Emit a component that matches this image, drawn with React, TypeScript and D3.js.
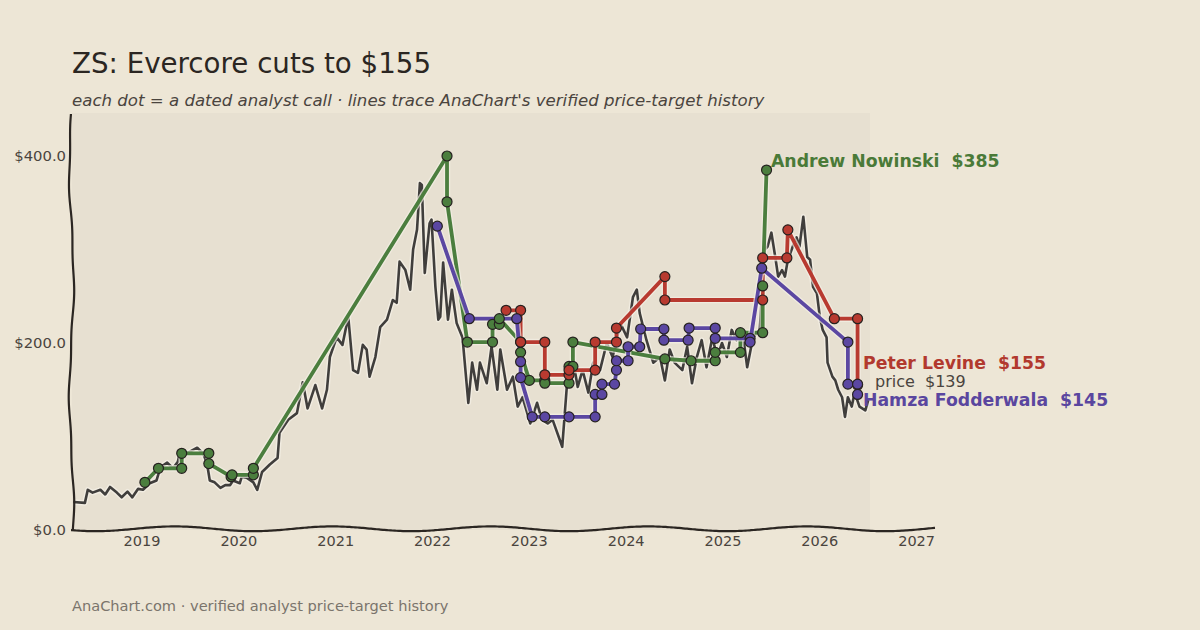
import React from 'react';
import * as d3 from 'd3';

// ---- data ----
const yearTicks = [2019, 2020, 2021, 2022, 2023, 2024, 2025, 2026, 2027];
const priceTicks = [0, 200, 400];

// ZS close, decimal year -> $
const priceHistory: [number, number][] = [
  [2018.29, 30], [2018.41, 29], [2018.44, 43], [2018.49, 40], [2018.57, 43], [2018.62, 38],
  [2018.67, 46], [2018.74, 40], [2018.79, 35], [2018.85, 41], [2018.90, 35], [2018.96, 44],
  [2019.01, 43], [2019.08, 50], [2019.15, 53], [2019.19, 67], [2019.26, 72], [2019.32, 66],
  [2019.37, 73], [2019.39, 82], [2019.46, 82], [2019.57, 88], [2019.63, 82], [2019.67, 72],
  [2019.70, 53], [2019.75, 51], [2019.81, 45], [2019.86, 48], [2019.91, 48], [2019.94, 53],
  [2020.01, 50], [2020.03, 57], [2020.08, 56], [2020.15, 51], [2020.19, 43], [2020.24, 62],
  [2020.32, 70], [2020.40, 77], [2020.42, 104], [2020.51, 118], [2020.60, 125], [2020.66, 158],
  [2020.71, 130], [2020.79, 155], [2020.86, 130], [2020.91, 150], [2020.94, 185], [2021.01, 206],
  [2021.07, 198], [2021.13, 228], [2021.18, 171], [2021.23, 168], [2021.28, 198], [2021.32, 193],
  [2021.35, 164], [2021.41, 185], [2021.46, 217], [2021.53, 225], [2021.59, 246], [2021.63, 243],
  [2021.66, 287], [2021.72, 278], [2021.77, 257], [2021.80, 300], [2021.84, 321], [2021.87, 371],
  [2021.89, 369], [2021.92, 275], [2021.97, 328], [2021.99, 332], [2022.03, 260], [2022.06, 225],
  [2022.08, 228], [2022.11, 286], [2022.16, 225], [2022.20, 257], [2022.25, 221], [2022.31, 206],
  [2022.37, 136], [2022.41, 179], [2022.46, 150], [2022.49, 179], [2022.56, 157], [2022.61, 196],
  [2022.67, 150], [2022.70, 193], [2022.77, 150], [2022.83, 164], [2022.88, 132], [2022.93, 142],
  [2023.01, 114], [2023.08, 136], [2023.13, 118], [2023.19, 114], [2023.24, 118], [2023.34, 89],
  [2023.39, 157], [2023.45, 182], [2023.50, 153], [2023.55, 171], [2023.61, 147], [2023.66, 179],
  [2023.73, 171], [2023.80, 200], [2023.86, 185], [2023.94, 221], [2024.01, 206], [2024.07, 249],
  [2024.11, 257], [2024.14, 232], [2024.21, 203], [2024.28, 179], [2024.35, 185], [2024.40, 160],
  [2024.45, 193], [2024.50, 179], [2024.58, 171], [2024.63, 196], [2024.68, 157], [2024.73, 185],
  [2024.78, 203], [2024.83, 174], [2024.89, 206], [2024.94, 185], [2024.99, 200], [2025.04, 185],
  [2025.09, 214], [2025.14, 203], [2025.20, 214], [2025.25, 174], [2025.31, 206], [2025.38, 214],
  [2025.43, 300], [2025.46, 303], [2025.50, 318], [2025.54, 292], [2025.57, 271], [2025.61, 278],
  [2025.64, 271], [2025.67, 289], [2025.72, 303], [2025.76, 313], [2025.79, 303], [2025.83, 335],
  [2025.87, 292], [2025.90, 289], [2025.93, 260], [2025.97, 253], [2026.00, 228], [2026.03, 214],
  [2026.07, 206], [2026.08, 179], [2026.13, 164], [2026.16, 160], [2026.19, 150], [2026.23, 142],
  [2026.26, 121], [2026.29, 142], [2026.33, 132], [2026.36, 147], [2026.41, 132], [2026.47, 128],
  [2026.50, 139],
];

const nowinskiCalls: [number, number][] = [
  [2019.03, 51], [2019.17, 66], [2019.41, 66], [2019.41, 82], [2019.69, 82], [2019.69, 71],
  [2019.92, 57], [2019.93, 59], [2020.15, 59], [2020.15, 66], [2022.15, 400], [2022.15, 351],
  [2022.36, 201], [2022.62, 201], [2022.62, 220], [2022.69, 220], [2022.69, 226], [2022.91, 201],
  [2022.91, 190], [2023.0, 160], [2023.16, 160], [2023.16, 157], [2023.41, 157], [2023.41, 175],
  [2023.45, 175], [2023.45, 201], [2024.40, 183], [2024.67, 181], [2024.92, 181], [2024.92, 190],
  [2025.18, 190], [2025.18, 211], [2025.41, 211], [2025.41, 261], [2025.45, 385],
];

const levineCalls: [number, number][] = [
  [2022.76, 235], [2022.91, 235], [2022.91, 201], [2023.16, 201], [2023.16, 166], [2023.41, 166],
  [2023.41, 171], [2023.68, 171], [2023.68, 201], [2023.90, 201], [2023.90, 216], [2024.40, 271],
  [2024.40, 246], [2025.41, 246], [2025.41, 291], [2025.66, 291], [2025.67, 321], [2026.15, 226],
  [2026.39, 226], [2026.39, 155],
];

const fodderwalaCalls: [number, number][] = [
  [2022.05, 325], [2022.38, 226], [2022.87, 226], [2022.91, 180], [2022.91, 163], [2023.03, 121],
  [2023.16, 121], [2023.41, 121], [2023.68, 121], [2023.68, 145], [2023.75, 145], [2023.75, 156],
  [2023.88, 156], [2023.90, 171], [2023.90, 181], [2024.02, 181], [2024.02, 196], [2024.14, 196],
  [2024.15, 215], [2024.39, 215], [2024.39, 203], [2024.64, 203], [2024.65, 216], [2024.92, 216],
  [2024.92, 205], [2025.28, 205], [2025.28, 201], [2025.40, 280], [2026.29, 201], [2026.29, 156],
  [2026.39, 156], [2026.39, 145],
];

const analystNames = ['Andrew Nowinski', 'Peter Levine', 'Hamza Fodderwala'];
const latestPrice = 139;

const BG = '#ede6d6';
const PLOT_BG = '#e7e0d1';
const INK = '#2b2622';

const series = [
  { name: analystNames[0], calls: nowinskiCalls, color: '#4b7e3e', text: '#4a7a38', lx: 771, ly: 167 },
  { name: analystNames[1], calls: levineCalls, color: '#b83a30', text: '#b2392e', lx: 863, ly: 369 },
  { name: analystNames[2], calls: fodderwalaCalls, color: '#5b47a2', text: '#5a469f', lx: 863, ly: 406 },
];

export default function App() {
  const left = 72, right = 936, top = 113, bottom = 530;
  const x = d3.scaleLinear().domain([2018.277, 2027.2]).range([left, right]);
  const y = d3.scaleLinear().domain([0, 446]).range([bottom, top]);

  const line = d3.line<[number, number]>().x(d => x(d[0])).y(d => y(d[1]));

  // hand-drawn looking spines
  const leftSpine = d3.line<number>()
    .x(v => 71.5 + 2.2 * Math.sin(v / 36) + 0.6 * Math.sin(v / 11))
    .y(v => v)
    .curve(d3.curveBasis)(d3.range(bottom, top - 1, -4));
  const bottomSpine = d3.line<number>()
    .x(v => v)
    .y(v => 528.8 - 2.4 * Math.sin(((v - 135) / 158) * Math.PI * 2))
    .curve(d3.curveBasis)(d3.range(left - 1, right + 1, 4));

  const font = '"DejaVu Sans", sans-serif';

  return (
    <div style={{ position: 'fixed', left: 0, top: 0 }}>
      <svg width={1200} height={630} style={{ display: 'block' }}>
        <rect width={1200} height={630} fill={BG} />
        <rect x={left} y={top} width={870 - left} height={bottom - top} fill={PLOT_BG} />

        <text x={72} y={73} fontFamily={font} fontSize={27.7} fill={INK}>
          ZS: Evercore cuts to $155
        </text>
        <text x={72} y={106} fontFamily={font} fontSize={16.6} fontStyle="italic" fill="#4a443e">
          each dot = a dated analyst call · lines trace AnaChart's verified price-target history
        </text>

        {/* price */}
        <path d={line(priceHistory) || ''} fill="none" stroke="#f4efe5" strokeOpacity={0.8} strokeWidth={5.5} strokeLinejoin="round" />
        <path d={line(priceHistory) || ''} fill="none" stroke="#403e3c" strokeWidth={2.6} strokeLinejoin="round" />

        {/* analyst target histories */}
        {series.map(s => (
          <g key={s.name}>
            <path d={line(s.calls) || ''} fill="none" stroke="#f4efe5" strokeOpacity={0.7} strokeWidth={6.5} strokeLinejoin="round" />
            <path d={line(s.calls) || ''} fill="none" stroke={s.color} strokeWidth={3.8} strokeLinejoin="round" />
          </g>
        ))}
        {series.map(s => (
          <g key={s.name + '-dots'}>
            {s.calls.map((c, i) => (
              <circle key={i} cx={x(c[0])} cy={y(c[1])} r={5} fill={s.color} stroke="#262220" strokeWidth={1.2} />
            ))}
          </g>
        ))}

        {/* spines */}
        <path d={leftSpine || ''} fill="none" stroke={INK} strokeWidth={2.2} />
        <path d={bottomSpine || ''} fill="none" stroke={INK} strokeWidth={2.2} />

        {priceTicks.map(t => (
          <text key={t} x={66} y={y(t) + 5} textAnchor="end" fontFamily={font} fontSize={14.8} fill="#4a443e">
            {'$' + t.toFixed(1)}
          </text>
        ))}
        {yearTicks.map(t => (
          <text key={t} x={x(t)} y={546} textAnchor="middle" fontFamily={font} fontSize={14.5} fill="#4a443e">
            {t}
          </text>
        ))}

        {series.map(s => {
          const last = s.calls[s.calls.length - 1][1];
          return (
            <text key={s.name + '-lbl'} x={s.lx} y={s.ly} fontFamily={font} fontSize={17.3} fontWeight="bold" fill={s.text}>
              {s.name + '\u00a0\u00a0$' + last}
            </text>
          );
        })}
        <text x={875} y={387} fontFamily={font} fontSize={16} fill="#4a443e">
          {'price\u00a0\u00a0$' + latestPrice}
        </text>

        <text x={72} y={611} fontFamily={font} fontSize={14.6} fill="#7a746c">
          AnaChart.com · verified analyst price-target history
        </text>
      </svg>
    </div>
  );
}
